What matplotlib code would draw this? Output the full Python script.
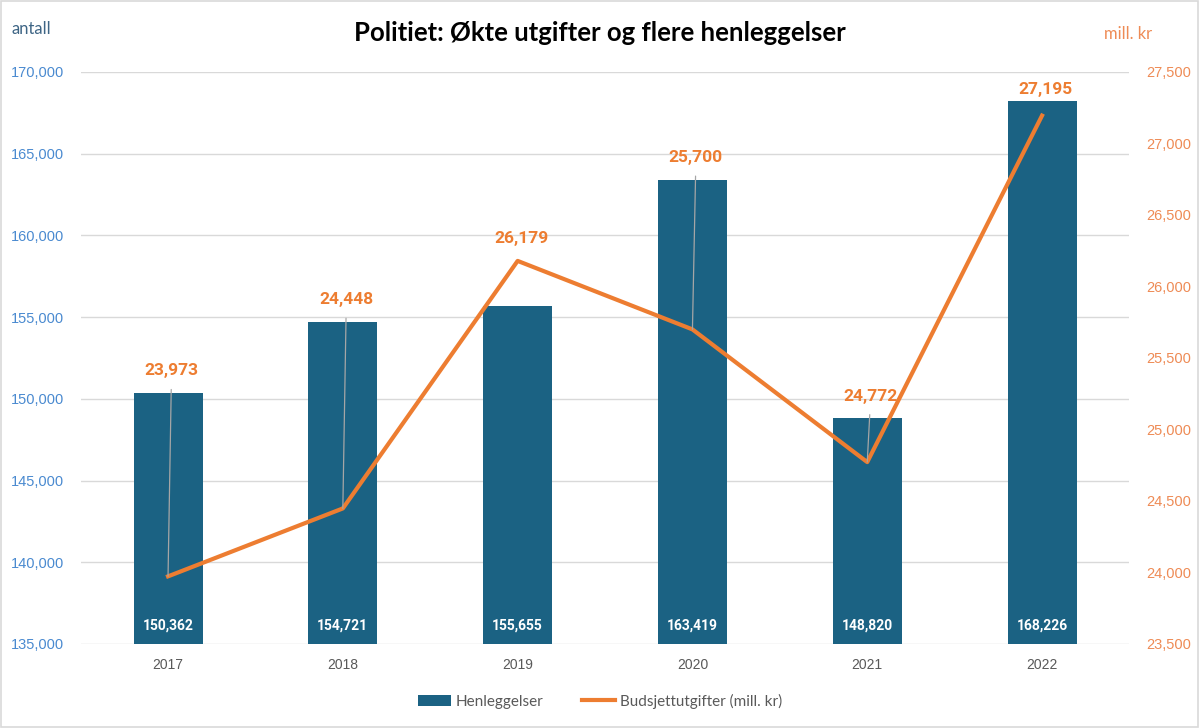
import matplotlib
matplotlib.use("Agg")
import matplotlib.pyplot as plt
import numpy as np
from matplotlib.ticker import FuncFormatter
from matplotlib.patches import Rectangle

# data
years = ['2017', '2018', '2019', '2020', '2021', '2022']
henleggelser = [150362, 154721, 155655, 163419, 148820, 168226]
budsjett = [23973, 24448, 26179, 25700, 24772, 27195]

barCol = '#1b6283'
lineCol = '#ed7d31'
leftTickCol = '#4a8ad0'
rightTickCol = '#ee8b55'

y1lim = (135000, 170000)
y2lim = (23500, 27500)

fig = plt.figure(figsize=(12, 7.28), dpi=100)
ax1 = fig.add_axes([0.0672, 0.1154, 0.874, 0.7857])
ax2 = ax1.twinx()

x = np.arange(len(years))
ax1.bar(x, henleggelser, width=0.395, color=barCol, zorder=2, label='Henleggelser')
ax2.plot(x, budsjett, color=lineCol, lw=3, zorder=3, label='Budsjettutgifter (mill. kr)')

ax1.set_xlim(-0.5, len(years) - 0.5)
ax1.set_ylim(*y1lim)
ax2.set_ylim(*y2lim)
ax1.set_yticks(np.arange(135000, 170001, 5000))
ax2.set_yticks(np.arange(23500, 27501, 500))
fmt = FuncFormatter(lambda v, p: f'{int(v):,}')
ax1.yaxis.set_major_formatter(fmt)
ax2.yaxis.set_major_formatter(fmt)

ax1.grid(axis='y', color='#d9d9d9', lw=1, zorder=0)
ax1.set_axisbelow(True)
for a in (ax1, ax2):
    for s in a.spines.values():
        s.set_visible(False)
    a.tick_params(length=0)

ax1.set_xticks(x)
ax1.set_xticklabels(years, fontsize=10, color='#595959', family='Liberation Sans')
ax1.tick_params(axis='x', pad=10)
ax1.tick_params(axis='y', colors=leftTickCol, labelsize=10.5, pad=12)
ax2.tick_params(axis='y', colors=rightTickCol, labelsize=10.5, pad=12)
for lab in ax1.get_yticklabels() + ax2.get_yticklabels():
    lab.set_family('Liberation Sans')

# bar value labels inside bars
for i, v in enumerate(henleggelser):
    ax1.text(i, 135000 + 700, f'{v:,}', ha='center', va='bottom', color='white',
             fontsize=10, fontweight='bold', family='Roboto', zorder=4)

# line value labels above the bars, leader lines back to the points
def to_left(v):
    return y1lim[0] + (v - y2lim[0]) / (y2lim[1] - y2lim[0]) * (y1lim[1] - y1lim[0])

def to_right(v):
    return y2lim[0] + (v - y1lim[0]) / (y1lim[1] - y1lim[0]) * (y2lim[1] - y2lim[0])

for i, v in enumerate(budsjett):
    pt = to_left(v)
    top = max(henleggelser[i], pt)
    ly = min(top + 1350, 168900)
    # Excel draws no leader when the label sits close to its point
    arrow = dict(arrowstyle='-', color='#a6a6a6', lw=0.9, shrinkA=6, shrinkB=0) if ly - pt > 3000 else None
    ax2.annotate(f'{v:,}', xy=(i, v), xytext=(i + 0.02, to_right(ly)),
                 ha='center', va='center', color=lineCol, fontsize=12.5, fontweight='bold',
                 family='Roboto', zorder=5, arrowprops=arrow)

fig.text(0.5, 0.955, 'Politiet: Økte utgifter og flere henleggelser', ha='center', va='center',
         fontsize=18.5, fontweight='bold', family='Lato', color='black')
fig.text(0.010, 0.960, 'antall', ha='left', va='center', fontsize=12, color='#3e6585', family='Lato')
fig.text(0.920, 0.953, 'mill. kr', ha='left', va='center', fontsize=12, color=rightTickCol, family='Lato')

# legend
h1, l1 = ax1.get_legend_handles_labels()
h2, l2 = ax2.get_legend_handles_labels()
fig.legend(h1 + h2, l1 + l2, loc='center', bbox_to_anchor=(0.5, 0.037), ncol=2, frameon=False,
           prop={'family': 'Lato', 'size': 11}, labelcolor='#595959', handlelength=2.2,
           handletextpad=0.3, columnspacing=2.5)

# light border around the figure
fig.add_artist(Rectangle((0.001, 0.002), 0.997, 0.996, transform=fig.transFigure, fill=False,
                         edgecolor='#d9d9d9', lw=1.2))

fig.savefig('out.png', dpi=100)
